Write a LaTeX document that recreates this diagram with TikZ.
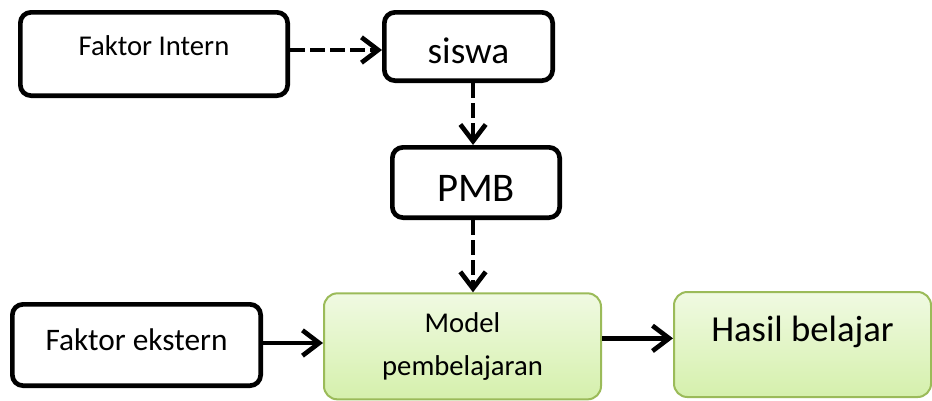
\documentclass[tikz,border=0pt]{standalone}
\usepackage{fontspec}
\setmainfont{Carlito}
\usetikzlibrary{arrows.meta, positioning, calc}
\definecolor{leafgreen}{HTML}{9BBB59}
\definecolor{paletop}{HTML}{F0FAE2}
\definecolor{palebot}{HTML}{D5F0AC}

\begin{document}
\begin{tikzpicture}[
  x=0.75pt, y=-0.75pt,
  >={Straight Barb[length=12.5pt, width=19pt]},
  bbox/.style 2 args={
    draw=black, line width=3.5pt, rounded corners=8pt,
    minimum width=#1, minimum height=#2, inner sep=0pt, align=center
  },
  gbox/.style 2 args={
    draw=leafgreen, line width=1.5pt, rounded corners=10pt,
    top color=paletop, bottom color=palebot,
    minimum width=#1, minimum height=#2, inner sep=0pt, align=center
  },
  dasharr/.style={->, line width=3.5pt, dash pattern=on 11pt off 4pt},
  solarr/.style={->, line width=3.5pt},
]

\useasboundingbox (0,0) rectangle (932,400);

% Top row
\node[bbox={200.5pt}{62.5pt}, font=\fontsize{21.5}{25}\selectfont,
  text height=12pt, text depth=10.5pt] (intern) at (154,54)
  {Faktor Intern};
\node[bbox={126.25pt}{51.25pt}, font=\fontsize{28}{33}\selectfont,
  text height=25.5pt, text depth=0pt] (siswa) at (468.5,46.5)
  {siswa};

% Middle
\node[bbox={125.5pt}{52.75pt}, font=\fontsize{30.5}{36}\selectfont,
  text height=28.5pt, text depth=0pt] (pmb) at (476,182.5)
  {PMB};

% Bottom row
\node[bbox={186.25pt}{61pt}, font=\fontsize{23.5}{28}\selectfont,
  text height=16pt, text depth=8.5pt] (ekstern) at (136.5,345)
  {Faktor ekstern};
\node[gbox={207.75pt}{79.5pt}, font=\fontsize{21.5}{32}\selectfont,
  yshift=-2.5pt] (model) at (462.5,343)
  {Model\\pembelajaran};
\node[gbox={192.75pt}{78.75pt}, font=\fontsize{27.5}{32}\selectfont,
  text height=19pt, text depth=23pt] (hasil) at (802.5,344.5)
  {Hasil belajar};

% Connectors
\draw[dasharr] ([yshift=3pt]intern.east) -- ([yshift=3pt]intern.east -| siswa.west);
\draw[dasharr] ([xshift=3.4pt]siswa.south) -- ([xshift=3.4pt]siswa.south |- pmb.north);
\draw[dasharr] ([xshift=-2.25pt]pmb.south) -- ([xshift=-2.25pt]pmb.south |- model.north);
\draw[solarr] ([yshift=1.5pt]ekstern.east) -- ([yshift=1.5pt]ekstern.east -| model.west);
\draw[solarr] ([yshift=6pt]model.east) -- ([yshift=6pt]model.east -| hasil.west);

\end{tikzpicture}
\end{document}
